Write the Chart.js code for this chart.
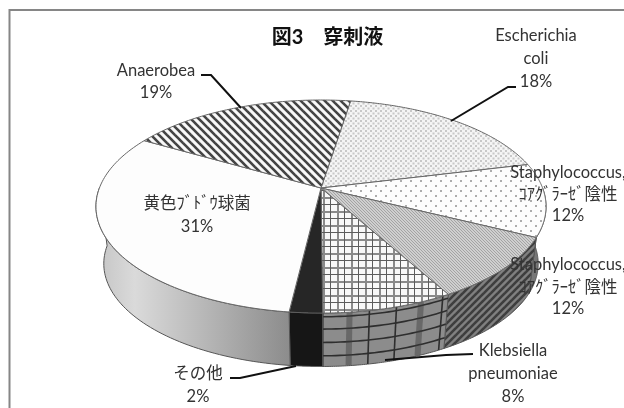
<!DOCTYPE html>
<html>
<head>
<meta charset="utf-8">
<style>
  body { margin: 0; background: #fff; }
  canvas { display: block; }
</style>
<script src="https://cdn.jsdelivr.net/npm/chart.js@4"></script>
</head>
<body>
<canvas id="pieChart" width="624" height="408"></canvas>
<script>
const titleText = '図3　穿刺液';
const categories = ['Escherichia coli', 'Staphylococcus, ｺｱｸﾞﾗｰｾﾞ陰性', 'Staphylococcus, ｺｱｸﾞﾗｰｾﾞ陰性', 'Klebsiella pneumoniae', 'その他', '黄色ﾌﾞﾄﾞｳ球菌', 'Anaerobea'];
// slice sizes as measured on the picture, the printed labels are rounded differently
const sliceValues = [18.7, 11.1, 9.6, 8, 2, 31.4, 19.2];
const percentLabels = ['18%', '12%', '12%', '8%', '2%', '31%', '19%'];

// tilted disc: top face and bottom face, same perspective
const apex = { x: 321, y: 188 };
const perspective = 0.174;
const topFace = { x: 321, y: 188, rx: 221.6, ry: 103.3 };
const bottomFace = { x: 321, y: 245.8, rx: 213.9, ry: 99.7 };

function project(face, a) {
    const w = 1 - perspective * Math.sin(a);
    return { x: face.x + face.rx * Math.cos(a) / w, y: face.y + face.ry * Math.sin(a) / w };
}

function makePattern(size, paint) {
    const tile = document.createElement('canvas');
    tile.width = size;
    tile.height = size;
    paint(tile.getContext('2d'));
    return tile.getContext('2d').createPattern(tile, 'repeat');
}

function stripes(size, bg, fg, width, rising) {
    return makePattern(size, g => {
        g.fillStyle = bg;
        g.fillRect(0, 0, size, size);
        g.strokeStyle = fg;
        g.lineWidth = width;
        for (let i = -size; i <= size; i += size) {
            g.beginPath();
            if (rising) {
                g.moveTo(i - 1, size + 1);
                g.lineTo(i + size + 1, -1);
            } else {
                g.moveTo(i - 1, -1);
                g.lineTo(i + size + 1, size + 1);
            }
            g.stroke();
        }
    });
}

function dots(size, bg, fg, dot) {
    return makePattern(size, g => {
        g.fillStyle = bg;
        g.fillRect(0, 0, size, size);
        g.fillStyle = fg;
        g.fillRect(0, 0, dot, dot);
        g.fillRect(size / 2, size / 2, dot, dot);
    });
}

const plaid = makePattern(14, g => {
    g.fillStyle = '#f8f8f8';
    g.fillRect(0, 0, 14, 14);
    g.fillStyle = '#8a8a8a';
    g.fillRect(1, 0, 2, 14);
    g.fillRect(0, 1, 14, 2);
    g.fillStyle = '#5c5c5c';
    g.fillRect(8, 0, 1, 14);
    g.fillRect(0, 8, 14, 1);
});

const sliceFills = [
    dots(5, '#f5f5f5', '#c8c8c8', 2),
    dots(10, '#fdfdfd', '#adadad', 2),
    stripes(3, '#cfcfcf', '#a3a3a3', 1, false),
    plaid,
    '#262626',
    '#fdfdfd',
    stripes(8, '#f8f8f8', '#444', 2.6, false)
];

// the arcs keep the angles the library computes, only the outline is tilted
Chart.ArcElement.prototype.draw = function (ctx) {
    const { startAngle, endAngle, options } = this;
    ctx.save();
    ctx.beginPath();
    ctx.moveTo(apex.x, apex.y);
    for (let i = 0; i <= 90; i++) {
        const p = project(topFace, startAngle + (endAngle - startAngle) * i / 90);
        ctx.lineTo(p.x, p.y);
    }
    ctx.closePath();
    ctx.fillStyle = options.backgroundColor;
    ctx.fill();
    ctx.strokeStyle = options.borderColor;
    ctx.lineWidth = options.borderWidth;
    ctx.stroke();
    ctx.restore();
};

function sideFill(ctx, index) {
    if (index === 5) {
        const grad = ctx.createLinearGradient(96, 0, 290, 0);
        grad.addColorStop(0, '#c4c4c4');
        grad.addColorStop(0.2, '#dadada');
        grad.addColorStop(1, '#8c8c8c');
        return grad;
    }
    if (index === 4) return '#161616';
    if (index === 3) return '#8c8c8c';
    if (index === 2) return stripes(7, '#808080', '#3e3e3e', 2.6, true);
    return '#777';
}

function edgePoint(a, t) {
    const p = project(topFace, a);
    const q = project(bottomFace, a);
    return { x: p.x + (q.x - p.x) * t, y: p.y + (q.y - p.y) * t };
}

function strokeBand(ctx, from, to, t) {
    ctx.beginPath();
    for (let i = 0; i <= 30; i++) {
        const p = edgePoint(from + (to - from) * i / 30, t);
        ctx.lineTo(p.x, p.y);
    }
    ctx.stroke();
}

const sidePlugin = {
    id: 'sidePlugin',
    beforeDatasetsDraw(chart) {
        const ctx = chart.ctx;
        chart.getDatasetMeta(0).data.forEach((arc, index) => {
            const from = Math.max(arc.startAngle, 0);
            const to = Math.min(arc.endAngle, Math.PI);
            if (to <= from) return;
            ctx.save();
            ctx.beginPath();
            for (let i = 0; i <= 60; i++) {
                const p = project(topFace, from + (to - from) * i / 60);
                ctx.lineTo(p.x, p.y);
            }
            for (let i = 60; i >= 0; i--) {
                const p = project(bottomFace, from + (to - from) * i / 60);
                ctx.lineTo(p.x, p.y);
            }
            ctx.closePath();
            ctx.fillStyle = sideFill(ctx, index);
            ctx.fill();
            ctx.strokeStyle = '#555';
            ctx.lineWidth = 1;
            ctx.stroke();
            if (index === 3) {
                ctx.clip();
                ctx.strokeStyle = '#2e2e2e';
                ctx.lineWidth = 1.6;
                [0.07, 0.3, 0.55, 0.8].forEach(t => strokeBand(ctx, from, to, t));
                [0, 0.35, 0.56, 0.95].forEach(f => {
                    const a = to - (to - from) * f;
                    const p = edgePoint(a, 0);
                    const q = edgePoint(a, 1);
                    ctx.beginPath();
                    ctx.moveTo(p.x, p.y);
                    ctx.lineTo(q.x, q.y);
                    ctx.stroke();
                });
                ctx.strokeStyle = 'rgba(60,60,60,0.45)';
                ctx.lineWidth = 6;
                [0.2, 0.76].forEach(f => {
                    const a = to - (to - from) * f;
                    const p = edgePoint(a, 0);
                    const q = edgePoint(a, 1);
                    ctx.beginPath();
                    ctx.moveTo(p.x, p.y);
                    ctx.lineTo(q.x, q.y);
                    ctx.stroke();
                });
            }
            ctx.restore();
        });
    }
};

// text lines of each label and the leader line going to its slice
const labelBoxes = [
    { x: 536, lines: [['Escherichia', 36], ['coli', 59], [percentLabels[0], 82]], leader: [[516, 87], [508, 87], [451, 121]] },
    { x: 568, lines: [['Staphylococcus,', 173], ['ｺｱｸﾞﾗｰｾﾞ陰性', 195], [percentLabels[1], 216]] },
    { x: 568, lines: [['Staphylococcus,', 265], ['ｺｱｸﾞﾗｰｾﾞ陰性', 288], [percentLabels[2], 309]] },
    { x: 513, lines: [['Klebsiella', 351], ['pneumoniae', 374], [percentLabels[3], 397]], leader: [[473, 354], [446, 355], [385, 360]] },
    { x: 198, lines: [['その他', 374], [percentLabels[4], 397]], leader: [[230, 378], [240, 378], [296, 366]] },
    { x: 197, lines: [['黄色ﾌﾞﾄﾞｳ球菌', 204], [percentLabels[5], 227]] },
    { x: 156, lines: [['Anaerobea', 71], [percentLabels[6], 93]], leader: [[201, 75], [211, 75], [241, 108]] }
];

const labelPlugin = {
    id: 'labelPlugin',
    afterDraw(chart) {
        const ctx = chart.ctx;
        ctx.save();
        ctx.strokeStyle = '#868686';
        ctx.lineWidth = 2;
        ctx.beginPath();
        ctx.moveTo(9.5, 408);
        ctx.lineTo(9.5, 10);
        ctx.lineTo(624, 10);
        ctx.stroke();
        ctx.strokeStyle = '#111';
        ctx.lineWidth = 2;
        labelBoxes.forEach(box => {
            if (!box.leader) return;
            ctx.beginPath();
            box.leader.forEach(p => ctx.lineTo(p[0], p[1]));
            ctx.stroke();
        });
        ctx.fillStyle = '#333';
        ctx.font = '16.5px Lato, "Noto Sans CJK JP"';
        ctx.textAlign = 'center';
        ctx.textBaseline = 'middle';
        labelBoxes.forEach(box => {
            box.lines.forEach(line => ctx.fillText(line[0], box.x, line[1]));
        });
        ctx.restore();
    }
};

new Chart(document.getElementById('pieChart'), {
    type: 'pie',
    data: {
        labels: categories,
        datasets: [{
            data: sliceValues,
            backgroundColor: sliceFills,
            borderColor: '#666',
            borderWidth: 1
        }]
    },
    options: {
        responsive: false,
        animation: false,
        rotation: 9,
        layout: { padding: { left: 31 } },
        plugins: {
            legend: { display: false },
            tooltip: { enabled: false },
            title: {
                display: true,
                text: titleText,
                color: '#111',
                font: { family: 'Lato, "Noto Sans CJK JP"', size: 20, weight: 'bold' },
                padding: { top: 26, bottom: 4 }
            }
        }
    },
    plugins: [sidePlugin, labelPlugin]
});
</script>
</body>
</html>
